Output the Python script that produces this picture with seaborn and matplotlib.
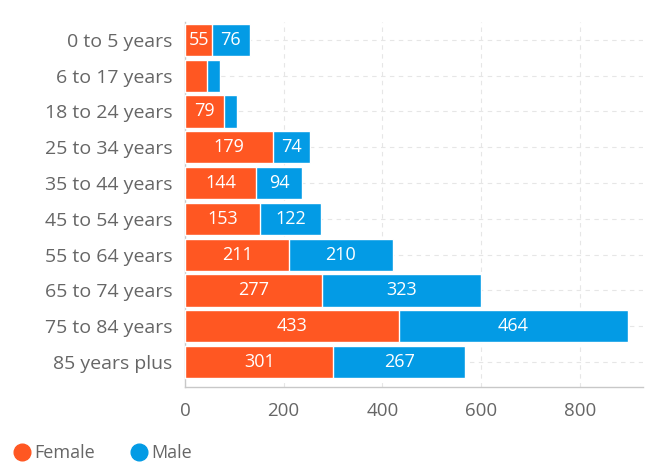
import matplotlib
matplotlib.use("Agg")
import matplotlib.pyplot as plt
import seaborn as sns
import pandas as pd
from matplotlib.lines import Line2D

age_groups = ["0 to 5 years", "6 to 17 years", "18 to 24 years", "25 to 34 years",
              "35 to 44 years", "45 to 54 years", "55 to 64 years", "65 to 74 years",
              "75 to 84 years", "85 years plus"]
female = [55, 45, 79, 179, 144, 153, 211, 277, 433, 301]
male = [76, 26, 27, 74, 94, 122, 210, 323, 464, 267]
# segments too narrow to carry a value label
female_labelled = [True, False, True, True, True, True, True, True, True, True]
male_labelled = [True, False, False, True, True, True, True, True, True, True]

female_color = "#FF5722"
male_color = "#039BE5"
text_gray = "#666666"
axis_gray = "#c8c8c8"

df = pd.DataFrame({"age": age_groups, "female": female, "male": male})
df["total"] = df["female"] + df["male"]

sns.set_style("white")
plt.rcParams["font.family"] = ["Open Sans", "DejaVu Sans"]

fig = plt.figure(figsize=(6.48, 4.67), dpi=100)
ax = fig.add_axes([0.2855, 0.171, 0.7065, 0.782])

# stacked bars: full total in the male colour, female share drawn over it
sns.barplot(data=df, y="age", x="total", color=male_color, saturation=1,
            width=0.9, edgecolor="white", linewidth=1.0, ax=ax, zorder=3)
sns.barplot(data=df, y="age", x="female", color=female_color, saturation=1,
            width=0.9, edgecolor="white", linewidth=1.0, ax=ax, zorder=4)

for i, (f, m) in enumerate(zip(female, male)):
    if female_labelled[i]:
        ax.text(f / 2, i, str(f), ha="center", va="center", color="white",
                fontsize=13, zorder=5)
    if male_labelled[i]:
        ax.text(f + m / 2, i, str(m), ha="center", va="center", color="white",
                fontsize=13, zorder=5)

ax.set_xlim(0, 928)
ax.set_ylim(len(age_groups) - 0.5 + 0.2, -0.5)
ax.set_xticks([0, 200, 400, 600, 800])
ax.set_xlabel("")
ax.set_ylabel("")

ax.grid(True, axis="both", linestyle=(0, (4, 4)), color="#e6e6e6", linewidth=0.8, zorder=0)
ax.set_axisbelow(True)

for side in ["top", "right"]:
    ax.spines[side].set_visible(False)
for side in ["left", "bottom"]:
    ax.spines[side].set_color(axis_gray)
    ax.spines[side].set_linewidth(1.0)

ax.tick_params(axis="y", length=6, width=1, color=axis_gray, labelcolor=text_gray,
               labelsize=14, pad=3)
ax.tick_params(axis="x", length=4, width=1, color=axis_gray, labelcolor=text_gray,
               labelsize=13.5, pad=7)

handles = [
    Line2D([], [], marker="o", linestyle="", markersize=12, color=female_color, label="Female"),
    Line2D([], [], marker="o", linestyle="", markersize=12, color=male_color, label="Male"),
]
fig.legend(handles=handles, loc="lower left", bbox_to_anchor=(-0.008, -0.024), ncol=2,
           frameon=False, fontsize=13, labelcolor=text_gray, handletextpad=0.1,
           columnspacing=1.8, handlelength=1.2)

fig.savefig("out.png", dpi=100)
